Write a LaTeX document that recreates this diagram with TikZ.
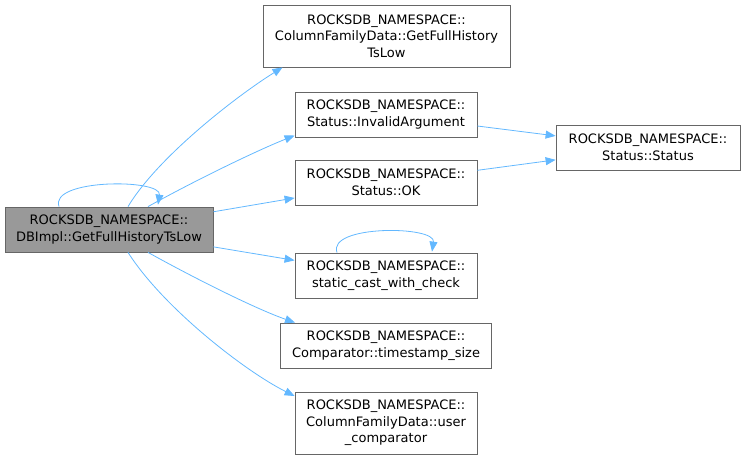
\documentclass[tikz,border=0pt]{standalone}
\usepackage{fontspec}
\setmainfont{DejaVu Sans}
\usetikzlibrary{arrows.meta}
\definecolor{edgec}{HTML}{63B8FF}
\definecolor{boxc}{HTML}{666666}
\definecolor{mainfill}{HTML}{999999}
\tikzset{
  fbox/.style={draw=boxc, line width=0.8pt, fill=white, align=center, inner sep=0pt,
    font=\fontsize{13}{16.5}\selectfont, text=black},
  edge/.style={draw=edgec, line width=0.8pt, -{Triangle[length=10pt,width=8pt]}},
}
\begin{document}
\begin{tikzpicture}[x=1pt,y=-1pt]
\useasboundingbox (0,0) rectangle (745,459);
\node[fbox, fill=mainfill, minimum width=208pt, minimum height=45pt] (main) at (109,229.5) {ROCKSDB\_NAMESPACE::\\DBImpl::GetFullHistoryTsLow};
\node[fbox, minimum width=247pt, minimum height=62pt] (cfd) at (386.5,36) {ROCKSDB\_NAMESPACE::\\ColumnFamilyData::GetFullHistory\\TsLow};
\node[fbox, minimum width=182pt, minimum height=45pt] (inv) at (386,114.5) {ROCKSDB\_NAMESPACE::\\Status::InvalidArgument};
\node[fbox, minimum width=184pt, minimum height=45pt] (st) at (648,147.5) {ROCKSDB\_NAMESPACE::\\Status::Status};
\node[fbox, minimum width=182pt, minimum height=45pt] (ok) at (386,182.5) {ROCKSDB\_NAMESPACE::\\Status::OK};
\node[fbox, minimum width=182pt, minimum height=45pt] (sc) at (386,275.5) {ROCKSDB\_NAMESPACE::\\static\_cast\_with\_check};
\node[fbox, minimum width=211pt, minimum height=45pt] (ts) at (386,345.5) {ROCKSDB\_NAMESPACE::\\Comparator::timestamp\_size};
\node[fbox, minimum width=182pt, minimum height=62pt] (uc) at (386,423) {ROCKSDB\_NAMESPACE::\\ColumnFamilyData::user\\\_comparator};

\draw[edge] ([xshift=19pt]main.north) .. controls +(30,-50) and +(-45,28) .. ([xshift=-104pt]cfd.south);
\draw[edge] ([xshift=39pt]main.north) .. controls +(45,-25) and +(-40,16) .. ([yshift=-21pt]inv.west);
\draw[edge] (main) -- (ok);
\draw[edge] (main) -- (sc);
\draw[edge] ([xshift=39pt]main.south) .. controls +(45,25) and +(-40,-14) .. ([xshift=-91pt]ts.north);
\draw[edge] ([xshift=19pt]main.south) .. controls +(35,55) and +(-50,-25) .. ([yshift=27pt]uc.west);
\draw[edge] ([xshift=-50pt]main.north) .. controls +(-10,-28) and +(4,-26) .. ([xshift=49pt,yshift=2pt]main.north);
\draw[edge] (inv) -- (st);
\draw[edge] (ok) -- (st);
\draw[edge] ([xshift=-49pt]sc.north) .. controls +(-10,-28) and +(4,-26) .. ([xshift=46pt,yshift=1pt]sc.north);
\end{tikzpicture}
\end{document}
